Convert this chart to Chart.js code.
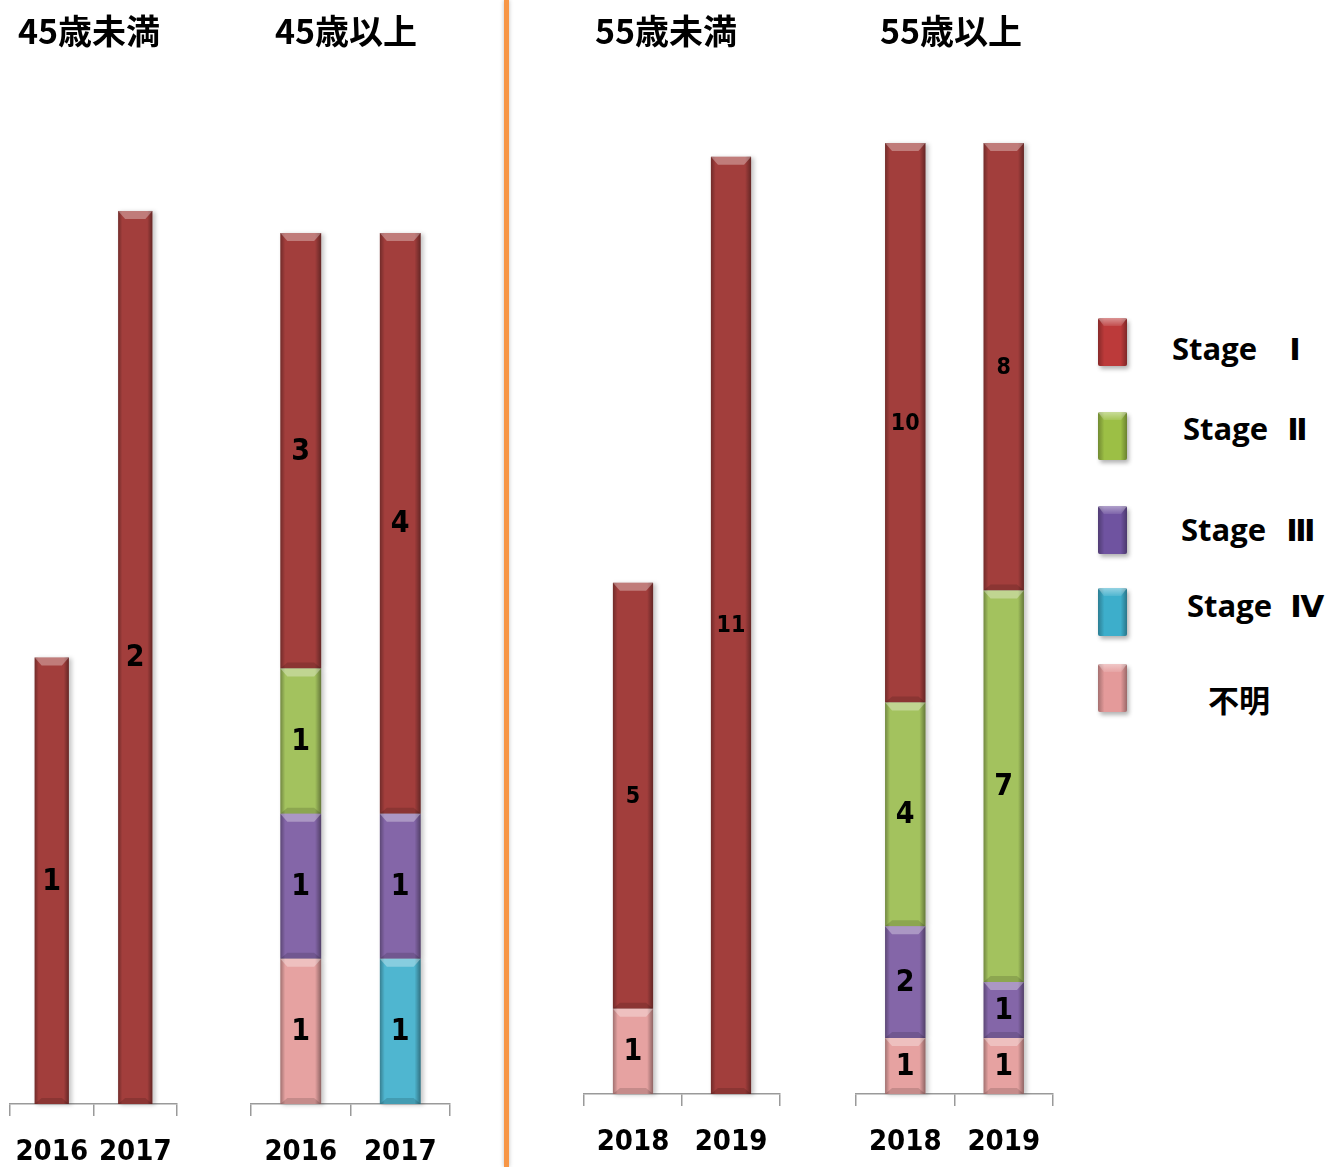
<!DOCTYPE html>
<html><head><meta charset="utf-8">
<script src="https://cdn.jsdelivr.net/npm/chart.js@4.4.1/dist/chart.umd.min.js"></script>
<style>
html,body{margin:0;padding:0;background:#fff;}
body{width:1326px;height:1167px;position:relative;overflow:hidden;}
canvas{position:absolute;top:0;}
.title{position:absolute;top:6px;font-family:"Noto Sans CJK JP","Noto Sans CJK SC",sans-serif;font-weight:700;font-size:34px;line-height:48px;color:#000;white-space:nowrap;transform:translateX(-50%);}
.divider{position:absolute;left:504px;top:0;width:5px;height:1167px;background:#F79646;box-shadow:0 0 4px rgba(0,0,0,0.25);}
.lbox{position:absolute;left:1098px;width:29px;height:48px;border-radius:2px;box-shadow:2px 3px 4px rgba(0,0,0,0.3);overflow:hidden;}
.lbox::before{content:"";position:absolute;inset:0;background:linear-gradient(to right,rgba(0,0,0,.28),rgba(0,0,0,0) 22%,rgba(0,0,0,0) 78%,rgba(0,0,0,.32));}
.lbox::after{content:"";position:absolute;left:0;right:0;top:0;height:8px;background:linear-gradient(to bottom,rgba(255,255,255,.45),rgba(255,255,255,.1));clip-path:polygon(0 0,100% 0,80% 100%,20% 100%);}
.ltext{position:absolute;font-family:"Open Sans","DejaVu Sans","Noto Sans CJK JP",sans-serif;font-weight:700;font-size:31px;line-height:40px;color:#000;white-space:pre;}
</style>
</head><body>
<div class="divider"></div>
<script>
// ---- data ----
const panelTitles = ["45歳未満", "45歳以上", "55歳未満", "55歳以上"];
const panelYears = [["2016", "2017"], ["2016", "2017"], ["2018", "2019"], ["2018", "2019"]];
const stageNames = ["Stage Ⅰ", "Stage Ⅱ", "Stage Ⅲ", "Stage Ⅳ", "不明"];
// values per panel: [first year, second year]
const stage1 = [[1, 2], [3, 4], [5, 11], [10, 8]];
const stage2 = [[0, 0], [1, 0], [0, 0], [4, 7]];
const stage3 = [[0, 0], [1, 1], [0, 0], [2, 1]];
const stage4 = [[0, 0], [0, 1], [0, 0], [0, 0]];
const unknown = [[0, 0], [1, 0], [1, 0], [1, 1]];
// y-scale maxima (scale setting per panel)
const panelMax = [2.152, 6.62, 11.16, 17];

// ---- styles / geometry ----
const stageColors = ["#A23E3C", "#A3C25E", "#8466A8", "#4FB6D0", "#E6A2A1"];
const legendColors = ["#BC3A3A", "#9CBF45", "#6F53A0", "#3DAECB", "#E49A9A"];
const panelGeom = [
  {left: 10, right: 177, base: 1104, titleX: 89},
  {left: 251, right: 450, base: 1104, titleX: 346},
  {left: 584, right: 780, base: 1094, titleX: 666},
  {left: 856, right: 1053, base: 1094, titleX: 951}
];
const TOP = 143, H = 1167, PAD = 40;
const numFont = '"DejaVu Sans Condensed","DejaVu Sans",sans-serif';

const bevelPlugin = {
  id: 'bevel',
  beforeDatasetsDraw(chart) {
    const ctx = chart.ctx;
    ctx.save();
    ctx.filter = 'blur(2px)';
    ctx.fillStyle = 'rgba(0,0,0,0.22)';
    chart.data.datasets.forEach((ds, di) => {
      chart.getDatasetMeta(di).data.forEach((bar, i) => {
        if (!ds.data[i]) return;
        const p = bar.getProps(['x', 'y', 'base', 'width'], true);
        const t = Math.min(p.y, p.base), h = Math.abs(p.base - p.y);
        ctx.fillRect(p.x - p.width / 2 + 2, t + 1, p.width + 1, h);
      });
    });
    ctx.restore();
  },
  afterDatasetsDraw(chart) {
    const ctx = chart.ctx;
    const pi = chart.options.plugins.bevel.panel;
    chart.data.datasets.forEach((ds, di) => {
      chart.getDatasetMeta(di).data.forEach((bar, i) => {
        if (!ds.data[i]) return;
        const p = bar.getProps(['x', 'y', 'base', 'width'], true);
        const l = p.x - p.width / 2, r = p.x + p.width / 2;
        const t = Math.min(p.y, p.base), b = Math.max(p.y, p.base);
        ctx.save();
        const g = ctx.createLinearGradient(l, 0, r, 0);
        g.addColorStop(0, 'rgba(0,0,0,0.30)');
        g.addColorStop(0.12, 'rgba(0,0,0,0.0)');
        g.addColorStop(0.85, 'rgba(0,0,0,0.0)');
        g.addColorStop(1, 'rgba(0,0,0,0.38)');
        ctx.fillStyle = g;
        ctx.fillRect(l, t, r - l, b - t);
        const bv = Math.min(8, (b - t) / 4);
        ctx.fillStyle = 'rgba(255,255,255,0.32)';
        ctx.beginPath();
        ctx.moveTo(l, t); ctx.lineTo(r, t); ctx.lineTo(r - 7, t + bv); ctx.lineTo(l + 7, t + bv); ctx.closePath();
        ctx.fill();
        ctx.fillStyle = 'rgba(0,0,0,0.14)';
        ctx.beginPath();
        ctx.moveTo(l, b); ctx.lineTo(r, b); ctx.lineTo(r - 7, b - 6); ctx.lineTo(l + 7, b - 6); ctx.closePath();
        ctx.fill();
        ctx.restore();
      });
    });
    // value labels
    ctx.save();
    ctx.fillStyle = '#000';
    ctx.textAlign = 'center';
    ctx.textBaseline = 'middle';
    chart.data.datasets.forEach((ds, di) => {
      chart.getDatasetMeta(di).data.forEach((bar, i) => {
        const v = ds.data[i];
        if (!v) return;
        const p = bar.getProps(['x', 'y', 'base'], true);
        const small = pi >= 2 && ds.stageIndex === 0;
        ctx.font = 'bold ' + (small ? 23 : 30) + 'px ' + numFont;
        ctx.fillText(String(v), p.x, (p.y + p.base) / 2 + 1);
      });
    });
    ctx.restore();
  }
};

const stageData = [stage1, stage2, stage3, stage4, unknown];
const stackOrder = [4, 3, 2, 1, 0]; // bottom to top

panelTitles.forEach((title, pi) => {
  const g = panelGeom[pi];
  const cv = document.createElement('canvas');
  const w = g.right - g.left + PAD * 2;
  cv.width = w; cv.height = H;
  cv.style.left = (g.left - PAD) + 'px';
  cv.style.width = w + 'px'; cv.style.height = H + 'px';
  document.body.appendChild(cv);

  const t = document.createElement('div');
  t.className = 'title';
  t.style.left = g.titleX + 'px';
  t.textContent = title;
  document.body.appendChild(t);

  new Chart(cv, {
    type: 'bar',
    data: {
      labels: panelYears[pi],
      datasets: stackOrder.map(si => ({
        label: stageNames[si],
        stageIndex: si,
        data: stageData[si][pi],
        backgroundColor: stageColors[si],
        borderWidth: 0,
        categoryPercentage: 1,
        barPercentage: 0.41
      }))
    },
    options: {
      responsive: false,
      animation: false,
      devicePixelRatio: 1,
      layout: {padding: {left: PAD, right: PAD, top: TOP, bottom: 0}},
      plugins: {legend: {display: false}, tooltip: {enabled: false}, bevel: {panel: pi}},
      scales: {
        x: {
          stacked: true,
          offset: true,
          grid: {display: true, offset: true, drawOnChartArea: false, drawTicks: true, tickLength: 12, color: '#9a9a9a', lineWidth: 1.5},
          border: {display: true, color: '#9a9a9a', width: 1.5},
          ticks: {color: '#000', padding: 19, font: {family: numFont, size: 29, weight: 'bold'}, maxRotation: 0, autoSkip: false},
          afterFit: s => { s.height = H - g.base; }
        },
        y: {stacked: true, display: false, min: 0, max: panelMax[pi]}
      }
    },
    plugins: [bevelPlugin]
  });
});

// legend
const legendOrder = [0, 1, 2, 3, 4];
const legendBoxTop = [318, 412, 506, 588, 664];
const legendTextPos = [[1172, 328, 24], [1183, 408, 11], [1181, 509, 12], [1187, 585, 10], [1208, 680, 0]];
legendOrder.forEach((si, k) => {
  const b = document.createElement('div');
  b.className = 'lbox';
  b.style.top = legendBoxTop[k] + 'px';
  b.style.background = legendColors[si];
  document.body.appendChild(b);
  const tx = document.createElement('div');
  tx.className = 'ltext';
  tx.style.left = legendTextPos[k][0] + 'px';
  tx.style.top = legendTextPos[k][1] + 'px';
  tx.style.wordSpacing = legendTextPos[k][2] + 'px';
  tx.textContent = stageNames[si];
  document.body.appendChild(tx);
});
</script>
</body></html>
